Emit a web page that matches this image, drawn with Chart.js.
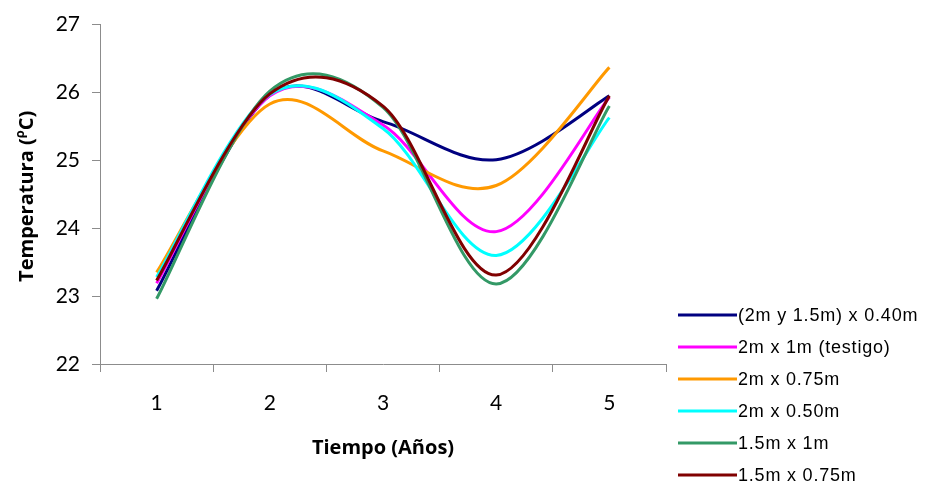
<!DOCTYPE html>
<html>
<head>
<meta charset="utf-8">
<script src="https://cdn.jsdelivr.net/npm/chart.js@4/dist/chart.umd.min.js"></script>
<style>
  html, body { margin: 0; padding: 0; background: #ffffff; }
  #wrap { width: 926px; height: 491px; position: relative; }
</style>
</head>
<body>
<div id="wrap"><canvas id="chart" width="926" height="491"></canvas></div>
<script>
// Mean temperature per year for each planting spacing
const years = ['1', '2', '3', '4', '5'];
const seriesNames = [
  '(2m y 1.5m) x 0.40m',
  '2m x 1m (testigo)',
  '2m x 0.75m',
  '2m x 0.50m',
  '1.5m x 1m',
  '1.5m x 0.75m'
];
const temp2y15x040 = [23.08, 25.96, 25.57, 25.01, 25.95];
const temp2x1 = [23.19, 25.95, 25.52, 23.95, 25.93];
const temp2x075 = [23.35, 25.83, 25.14, 24.63, 26.37];
const temp2x050 = [23.28, 25.97, 25.47, 23.60, 25.63];
const temp15x1 = [22.96, 26.02, 25.78, 23.18, 25.80];
const temp15x075 = [23.23, 25.98, 25.80, 23.31, 25.95];
const yMin = 22;
const yMax = 27;
const yStep = 1;

const seriesValues = [temp2y15x040, temp2x1, temp2x075, temp2x050, temp15x1, temp15x075];
const seriesColors = ['#000080', '#FF00FF', '#FF9900', '#00FFFF', '#339966', '#800000'];
const axisGray = '#8c8c8c';

const datasets = seriesValues.map((vals, i) => ({
  label: seriesNames[i],
  data: vals,
  borderColor: seriesColors[i],
  backgroundColor: seriesColors[i],
  borderWidth: 3,
  pointRadius: 0,
  pointHoverRadius: 0,
  tension: 0.4,
  fill: false,
  // later series are painted over earlier ones
  order: seriesValues.length - 1 - i
}));

// Smoothed lines: cubic Bezier handles set to one sixth of the
// neighbour-to-neighbour vector (end points use themselves as neighbour)
const sixthSmoothing = {
  id: 'sixthSmoothing',
  beforeDatasetsDraw(chart) {
    chart.getSortedVisibleDatasetMetas().forEach(meta => {
      const pts = meta.data;
      for (let i = 0; i < pts.length; i++) {
        const p = pts[i];
        const prev = pts[i - 1] || p;
        const next = pts[i + 1] || p;
        const dx = (next.x - prev.x) / 6;
        const dy = (next.y - prev.y) / 6;
        p.cp1x = p.x - dx;
        p.cp1y = p.y - dy;
        p.cp2x = p.x + dx;
        p.cp2y = p.y + dy;
      }
      meta.dataset._pointsUpdated = true;
    });
  }
};

// Legend on the lower right: short line sample followed by the series name
const seriesKey = {
  id: 'seriesKey',
  afterDraw(chart) {
    const ctx = chart.ctx;
    const x0 = chart.chartArea.right + 12;
    ctx.save();
    ctx.font = '18px "Liberation Sans", Arial, sans-serif';
    if ('letterSpacing' in ctx) ctx.letterSpacing = '0.8px';
    ctx.textBaseline = 'middle';
    ctx.textAlign = 'left';
    chart.data.datasets.forEach((ds, i) => {
      const y = 315 + i * 32;
      ctx.strokeStyle = ds.borderColor;
      ctx.lineWidth = 3;
      ctx.beginPath();
      ctx.moveTo(x0, y);
      ctx.lineTo(x0 + 59, y);
      ctx.stroke();
      ctx.fillStyle = '#000000';
      ctx.fillText(ds.label, x0 + 60, y + 1);
    });
    ctx.restore();
  }
};

// Vertical axis title with the raised degree mark
const yAxisTitle = {
  id: 'yAxisTitle',
  afterDraw(chart) {
    const ctx = chart.ctx;
    const main = 'bold 20px "Open Sans", sans-serif';
    const small = 'bold 13px "Open Sans", sans-serif';
    const parts = [
      { t: 'Temperatura (', f: main, dy: 0 },
      { t: '\u03C1', f: small, dy: -7 },
      { t: 'C)', f: main, dy: 0 }
    ];
    ctx.save();
    let total = 0;
    parts.forEach(p => { ctx.font = p.f; p.w = ctx.measureText(p.t).width; total += p.w; });
    const cy = (chart.chartArea.top + chart.chartArea.bottom) / 2 + 2;
    ctx.translate(27, cy);
    ctx.rotate(-Math.PI / 2);
    ctx.fillStyle = '#000000';
    ctx.textBaseline = 'middle';
    ctx.textAlign = 'left';
    let x = -total / 2;
    parts.forEach(p => {
      ctx.font = p.f;
      ctx.fillText(p.t, x, p.dy);
      x += p.w;
    });
    ctx.restore();
  }
};

new Chart(document.getElementById('chart'), {
  type: 'line',
  data: { labels: years, datasets },
  plugins: [sixthSmoothing, seriesKey, yAxisTitle],
  options: {
    responsive: false,
    animation: false,
    events: [],
    layout: { padding: { top: 17, right: 260, bottom: 0, left: 0 } },
    plugins: {
      legend: { display: false },
      tooltip: { enabled: false },
      title: { display: false }
    },
    scales: {
      x: {
        type: 'category',
        offset: true,
        afterFit(scale) { scale.height = 127; },
        grid: {
          offset: true,
          drawOnChartArea: false,
          drawTicks: true,
          tickLength: 8,
          color: axisGray,
          lineWidth: 1
        },
        border: { color: axisGray, width: 1 },
        ticks: {
          color: '#000000',
          font: { family: 'Lato, "Open Sans", sans-serif', size: 21 },
          padding: 19,
          maxRotation: 0
        },
        title: {
          display: true,
          text: 'Tiempo (Años)',
          color: '#000000',
          font: { family: '"Open Sans", sans-serif', size: 20, weight: 'bold' },
          padding: { top: 0, bottom: 31 }
        }
      },
      y: {
        min: yMin,
        max: yMax,
        afterFit(scale) { scale.width = 100; },
        grid: {
          drawOnChartArea: false,
          drawTicks: true,
          tickLength: 8,
          color: axisGray,
          lineWidth: 1
        },
        border: { color: axisGray, width: 1 },
        ticks: {
          stepSize: yStep,
          color: '#000000',
          font: { family: 'Lato, "Open Sans", sans-serif', size: 21 },
          padding: 12
        }
      }
    }
  }
});
</script>
</body>
</html>
